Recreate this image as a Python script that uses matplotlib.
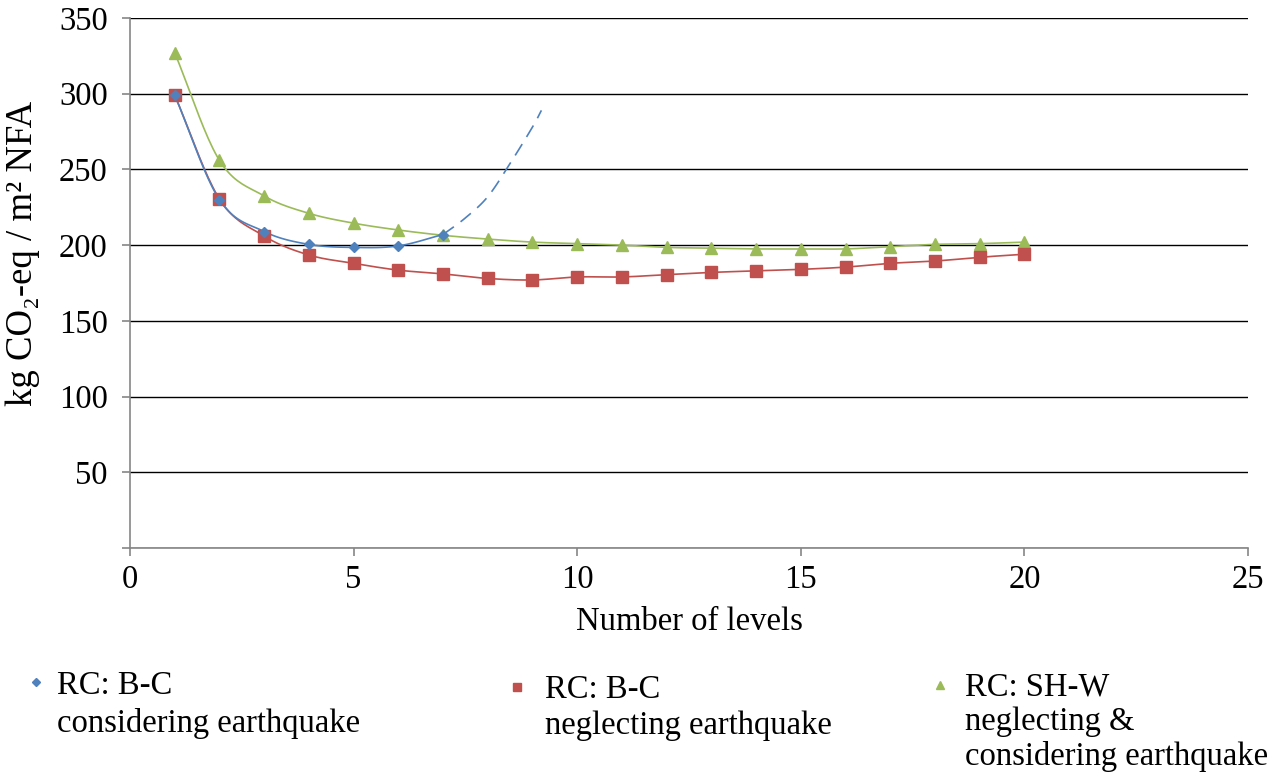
import numpy as np
import matplotlib
matplotlib.use('Agg')
import matplotlib.pyplot as plt
from matplotlib.lines import Line2D

plt.rcParams['font.family'] = ['Liberation Serif', 'DejaVu Serif']
plt.rcParams['mathtext.fontset'] = 'stix'

# data
levels_bc_eq = [1, 2, 3, 4, 5, 6, 7]
co2_bc_eq = [299, 230, 209, 200.5, 198.5, 199.5, 207]
# dashed trend continuation of the blue series
trend_x = [7, 7.5, 8, 8.5, 9, 9.2]
trend_y = [207, 218, 232, 254, 278, 289]

levels = list(range(1, 21))
co2_bc_noeq = [299, 230.5, 206, 193.5, 188, 183.5, 181, 178, 177, 179,
               179, 180.5, 182, 183, 184, 185.5, 188, 189.5, 192, 194]
co2_shw = [327, 256, 232.5, 221, 214.5, 210, 206.5, 204, 202, 201,
           200, 198.5, 198, 197.5, 197.5, 197.5, 199, 200.5, 201, 202]

labels = ['RC: B-C\nconsidering earthquake',
          'RC: B-C\nneglecting earthquake',
          'RC: SH-W\nneglecting &\nconsidering earthquake']
colors = ['#4F81BD', '#C0504D', '#9BBB59']
markers = ['D', 's', '^']
msizes = [5, 8, 8]

FS = 23.5


def smooth(x, y, n=20):
    # Catmull-Rom style smoothing, like Excel's smoothed line
    x = np.asarray(x, float)
    y = np.asarray(y, float)
    px = np.concatenate([[2 * x[0] - x[1]], x, [2 * x[-1] - x[-2]]])
    py = np.concatenate([[2 * y[0] - y[1]], y, [2 * y[-1] - y[-2]]])
    xs, ys = [], []
    t = np.linspace(0, 1, n, endpoint=False)
    for i in range(1, len(px) - 2):
        for arr, out in ((px, xs), (py, ys)):
            p0, p1, p2, p3 = arr[i - 1:i + 3]
            out.extend(0.5 * ((2 * p1) + (-p0 + p2) * t
                              + (2 * p0 - 5 * p1 + 4 * p2 - p3) * t ** 2
                              + (-p0 + 3 * p1 - 3 * p2 + p3) * t ** 3))
    xs.append(x[-1])
    ys.append(y[-1])
    return xs, ys


W, H = 1282, 774
fig = plt.figure(figsize=(W / 100, H / 100), dpi=100)
ax = fig.add_axes([130 / W, 1 - 548 / H, 1118 / W, 530 / H])

series = [(levels_bc_eq, co2_bc_eq), (levels, co2_bc_noeq), (levels, co2_shw)]
for i in [2, 1, 0]:
    x, y = series[i]
    sx, sy = smooth(x, y)
    ax.plot(sx, sy, color=colors[i], lw=1.2, zorder=3)
    ax.plot(x, y, linestyle='none', marker=markers[i], ms=msizes[i],
            color=colors[i], zorder=4)

tx, ty = smooth(trend_x, trend_y)
ax.plot(tx, ty, color=colors[0], lw=1.2, dashes=(8, 5), zorder=3)

ax.set_xlim(0, 25)
ax.set_ylim(0, 350)
ax.set_xticks(range(0, 26, 5))
ax.set_yticks(range(0, 351, 50))
ax.set_yticklabels([''] + [str(v) for v in range(50, 351, 50)])
ax.yaxis.grid(True, color='black', lw=1)
ax.set_axisbelow(True)
for s in ['top', 'right']:
    ax.spines[s].set_visible(False)
for s in ['left', 'bottom']:
    ax.spines[s].set_color('#868686')
    ax.spines[s].set_linewidth(1.2)
ax.tick_params(axis='both', labelsize=FS, color='#868686', length=6, width=1.2)
ax.tick_params(axis='x', pad=6)
ax.tick_params(axis='y', pad=10)

ax.set_xlabel('Number of levels', fontsize=FS, labelpad=8)
ax.set_ylabel('kg CO\u2082-eq / m\u00b2 NFA', fontsize=26.5)
ax.yaxis.set_label_coords((40 - 130) / 1118, (548 - 253) / 530)

# legend below the plot (pixel positions of marker and text top)
mark_px = [(36, 682), (517, 687), (940, 685)]
text_px = [(57, 670), (545, 674), (965, 672)]
spacing = [1.33, 1.26, 1.16]
for i in range(3):
    mx, my = mark_px[i]
    fig.add_artist(Line2D([mx / W], [1 - my / H], transform=fig.transFigure,
                          marker=markers[i], ms=msizes[i] * 0.8,
                          color=colors[i], linestyle='none'))
    tx0, ty0 = text_px[i]
    fig.text(tx0 / W, 1 - ty0 / H, labels[i], fontsize=FS, va='top',
             linespacing=spacing[i])

fig.savefig('out.png', dpi=100)
